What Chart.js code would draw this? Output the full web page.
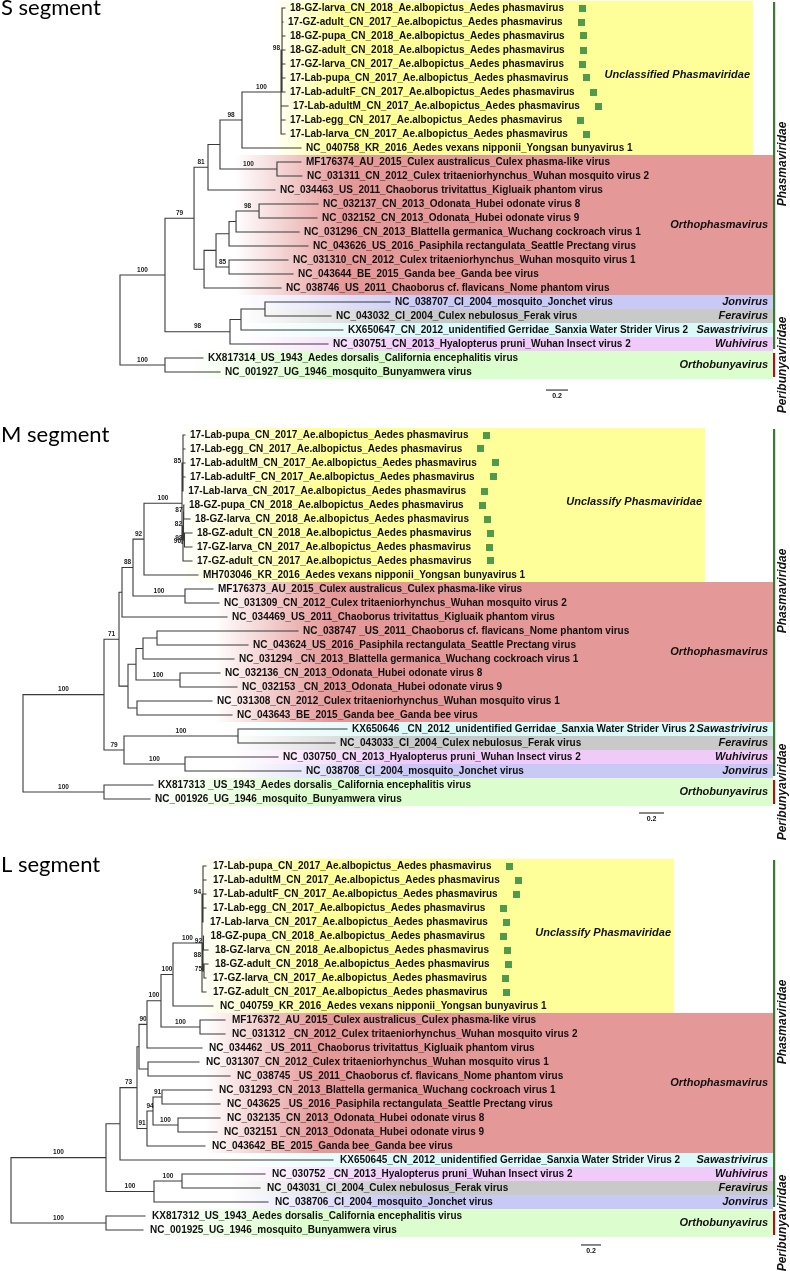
<!DOCTYPE html>
<html><head><meta charset="utf-8">
<script src="https://cdn.jsdelivr.net/npm/chart.js@4.4.1/dist/chart.umd.min.js"></script>
<style>
html,body{margin:0;padding:0;background:#fff;}
#wrap{position:relative;width:790px;height:1271px;overflow:hidden;background:#fff;}
canvas{position:absolute;left:0;}
</style></head><body>
<div id="wrap">
<canvas id="cS" width="790" height="420" style="top:0px"></canvas>
<canvas id="cM" width="790" height="425" style="top:420px"></canvas>
<canvas id="cL" width="790" height="426" style="top:845px"></canvas>
</div>
<script>
// ================= DATA =================
const sTaxa = [
 "18-GZ-larva_CN_2018_Ae.albopictus_Aedes phasmavirus",
 "17-GZ-adult_CN_2017_Ae.albopictus_Aedes phasmavirus",
 "18-GZ-pupa_CN_2018_Ae.albopictus_Aedes phasmavirus",
 "18-GZ-adult_CN_2018_Ae.albopictus_Aedes phasmavirus",
 "17-GZ-larva_CN_2017_Ae.albopictus_Aedes phasmavirus",
 "17-Lab-pupa_CN_2017_Ae.albopictus_Aedes phasmavirus",
 "17-Lab-adultF_CN_2017_Ae.albopictus_Aedes phasmavirus",
 "17-Lab-adultM_CN_2017_Ae.albopictus_Aedes phasmavirus",
 "17-Lab-egg_CN_2017_Ae.albopictus_Aedes phasmavirus",
 "17-Lab-larva_CN_2017_Ae.albopictus_Aedes phasmavirus",
 "NC_040758_KR_2016_Aedes vexans nipponii_Yongsan bunyavirus 1",
 "MF176374_AU_2015_Culex australicus_Culex phasma-like virus",
 "NC_031311_CN_2012_Culex tritaeniorhynchus_Wuhan mosquito virus 2",
 "NC_034463_US_2011_Chaoborus trivitattus_Kigluaik phantom virus",
 "NC_032137_CN_2013_Odonata_Hubei odonate virus 8",
 "NC_032152_CN_2013_Odonata_Hubei odonate virus 9",
 "NC_031296_CN_2013_Blattella germanica_Wuchang cockroach virus 1",
 "NC_043626_US_2016_Pasiphila rectangulata_Seattle Prectang virus",
 "NC_031310_CN_2012_Culex tritaeniorhynchus_Wuhan mosquito virus 1",
 "NC_043644_BE_2015_Ganda bee_Ganda bee virus",
 "NC_038746_US_2011_Chaoborus cf. flavicans_Nome phantom virus",
 "NC_038707_CI_2004_mosquito_Jonchet virus",
 "NC_043032_CI_2004_Culex nebulosus_Ferak virus",
 "KX650647_CN_2012_unidentified Gerridae_Sanxia Water Strider Virus 2",
 "NC_030751_CN_2013_Hyalopterus pruni_Wuhan Insect virus 2",
 "KX817314_US_1943_Aedes dorsalis_California encephalitis virus",
 "NC_001927_UG_1946_mosquito_Bunyamwera virus"
];
// Newick: leaf = index in taxa list, internal label = bootstrap, after ':' = branch length
const sTree = "((((((((0:0.027,1:0.009,2:0.027,3:0.027,4:0.027,5:0.027,6:0.027)98:0.009,7:0.064,8:0.036,9:0.036)100:0.355,10:0.536)98:0.2,(11:0.218,12:0.227)100:0.518):0.109,13:0.609)81:0.127,(((((14:0.536,15:0.527)98:0.209,16:0.573):0.064,17:0.718):0.118,(18:0.536,19:0.582)85:0.118):0.109,20:0.7):0.091)79:0.264,(((21:1.136,22:0.6):0.218,23:0.927):0.1,24:0.891)98:0.591)100:0.409,(25:0.345,26:0.5)100:0.409);";
const sClades = ["Unclassified Phasmaviridae","Orthophasmavirus","Jonvirus","Feravirus","Sawastrivirus","Wuhivirus","Orthobunyavirus"];
const sCladeRows = [[0,10],[11,20],[21,21],[22,22],[23,23],[24,24],[25,26]];
const sTagged = [0,1,2,3,4,5,6,7,8,9];

const mTaxa = [
 "17-Lab-pupa_CN_2017_Ae.albopictus_Aedes phasmavirus",
 "17-Lab-egg_CN_2017_Ae.albopictus_Aedes phasmavirus",
 "17-Lab-adultM_CN_2017_Ae.albopictus_Aedes phasmavirus",
 "17-Lab-adultF_CN_2017_Ae.albopictus_Aedes phasmavirus",
 "17-Lab-larva_CN_2017_Ae.albopictus_Aedes phasmavirus",
 "18-GZ-pupa_CN_2018_Ae.albopictus_Aedes phasmavirus",
 "18-GZ-larva_CN_2018_Ae.albopictus_Aedes phasmavirus",
 "18-GZ-adult_CN_2018_Ae.albopictus_Aedes phasmavirus",
 "17-GZ-larva_CN_2017_Ae.albopictus_Aedes phasmavirus",
 "17-GZ-adult_CN_2017_Ae.albopictus_Aedes phasmavirus",
 "MH703046_KR_2016_Aedes vexans nipponii_Yongsan bunyavirus 1",
 "MF176373_AU_2015_Culex australicus_Culex phasma-like virus",
 "NC_031309_CN_2012_Culex tritaeniorhynchus_Wuhan mosquito virus 2",
 "NC_034469_US_2011_Chaoborus trivitattus_Kigluaik phantom virus",
 "NC_038747 _US_2011_Chaoborus cf. flavicans_Nome phantom virus",
 "NC_043624_US_2016_Pasiphila rectangulata_Seattle Prectang virus",
 "NC_031294 _CN_2013_Blattella germanica_Wuchang cockroach virus 1",
 "NC_032136_CN_2013_Odonata_Hubei odonate virus 8",
 "NC_032153 _CN_2013_Odonata_Hubei odonate virus 9",
 "NC_031308_CN_2012_Culex tritaeniorhynchus_Wuhan mosquito virus 1",
 "NC_043643_BE_2015_Ganda bee_Ganda bee virus",
 "KX650646 _CN_2012_unidentified Gerridae_Sanxia Water Strider Virus 2",
 "NC_043033_CI_2004_Culex nebulosus_Ferak virus",
 "NC_030750_CN_2013_Hyalopterus pruni_Wuhan Insect virus 2",
 "NC_038708_CI_2004_mosquito_Jonchet virus",
 "KX817313 _US_1943_Aedes dorsalis_California encephalitis virus",
 "NC_001926_UG_1946_mosquito_Bunyamwera virus"
];
const mTree = "((((((((0:0.016,1:0.016,2:0.016,3:0.016,4:0.002)85:0.008,(((5:0.002,6:0.05)87:0.002,(7:0.06,8:0.06)98:0.008)82:0.004,9:0.072)96:0.008)100:0.304,10:0.432)92:0.088,(11:0.224,12:0.272)100:0.416)88:0.088,13:0.84):0.024,((((14:1.128,15:0.728):0.112,16:0.728):0.056,(17:0.32,18:0.456)100:0.352):0.064,(19:0.6,20:0.76):0.072):0.072)71:0.12,((21:0.872,22:0.776)100:0.912,(23:0.744,24:0.928)100:0.488)79:0.16)100:0.648,(25:0.392,26:0.368)100:0.648);";
const mClades = ["Unclassify Phasmaviridae","Orthophasmavirus","Sawastrivirus","Feravirus","Wuhivirus","Jonvirus","Orthobunyavirus"];
const mCladeRows = [[0,10],[11,20],[21,21],[22,22],[23,23],[24,24],[25,26]];
const mTagged = [0,1,2,3,4,5,6,7,8,9];

const lTaxa = [
 "17-Lab-pupa_CN_2017_Ae.albopictus_Aedes phasmavirus",
 "17-Lab-adultM_CN_2017_Ae.albopictus_Aedes phasmavirus",
 "17-Lab-adultF_CN_2017_Ae.albopictus_Aedes phasmavirus",
 "17-Lab-egg_CN_2017_Ae.albopictus_Aedes phasmavirus",
 "17-Lab-larva_CN_2017_Ae.albopictus_Aedes phasmavirus",
 "18-GZ-pupa_CN_2018_Ae.albopictus_Aedes phasmavirus",
 "18-GZ-larva_CN_2018_Ae.albopictus_Aedes phasmavirus",
 "18-GZ-adult_CN_2018_Ae.albopictus_Aedes phasmavirus",
 "17-GZ-larva_CN_2017_Ae.albopictus_Aedes phasmavirus",
 "17-GZ-adult_CN_2017_Ae.albopictus_Aedes phasmavirus",
 "NC_040759_KR_2016_Aedes vexans nipponii_Yongsan bunyavirus 1",
 "MF176372_AU_2015_Culex australicus_Culex phasma-like virus",
 "NC_031312 _CN_2012_Culex tritaeniorhynchus_Wuhan mosquito virus 2",
 "NC_034462 _US_2011_Chaoborus trivitattus_Kigluaik phantom virus",
 "NC_031307_CN_2012_Culex tritaeniorhynchus_Wuhan mosquito virus 1",
 "NC_038745 _US_2011_Chaoborus cf. flavicans_Nome phantom virus",
 "NC_031293_CN_2013_Blattella germanica_Wuchang cockroach virus 1",
 "NC_043625 _US_2016_Pasiphila rectangulata_Seattle Prectang virus",
 "NC_032135_CN_2013_Odonata_Hubei odonate virus 8",
 "NC_032151 _CN_2013_Odonata_Hubei odonate virus 9",
 "NC_043642_BE_2015_Ganda bee_Ganda bee virus",
 "KX650645_CN_2012_unidentified Gerridae_Sanxia Water Strider Virus 2",
 "NC_030752 _CN_2013_Hyalopterus pruni_Wuhan Insect virus 2",
 "NC_043031_CI_2004_Culex nebulosus_Ferak virus",
 "NC_038706_CI_2004_mosquito_Jonchet virus",
 "KX817312_US_1943_Aedes dorsalis_California encephalitis virus",
 "NC_001925_UG_1946_mosquito_Bunyamwera virus"
];
const lTree = "((((((((((0:0.03,1:0.03,2:0.03,3:0.03,4:0)94:0.01,((5:0.001,6:0.045)92:0.005,(7:0.04,8:0.02)75:0.01)88:0.01,9:0.04)100:0.29,10:0.4)100:0.12,(11:0.25,12:0.25)100:0.39)100:0.14,13:0.55)90:0.08,(14:0.51,15:0.82):0.09):0.02,(((16:0.5,17:0.58)91:0.09,(18:0.42,19:0.39)100:0.25)94:0.06,20:0.58)91:0.1)73:0.17,21:2.13):0.14,((22:0.83,23:0.78)100:0.28,24:1.14)100:0.48)100:0.95,(25:0.39,26:0.37)100:0.95);";
const lClades = ["Unclassify Phasmaviridae","Orthophasmavirus","Sawastrivirus","Wuhivirus","Feravirus","Jonvirus","Orthobunyavirus"];
const lCladeRows = [[0,10],[11,20],[21,21],[22,22],[23,23],[24,24],[25,26]];
const lTagged = [0,1,2,3,4,5,6,7,8,9];

const families = ["Phasmaviridae","Peribunyaviridae"];
const familyRows = [[0,24],[25,26]];
const scaleBarValue = 0.2;

// ================= STYLE / LAYOUT =================
const cladeColors = {
  "Unclassified Phasmaviridae":"#ffff99", "Unclassify Phasmaviridae":"#ffff99",
  "Orthophasmavirus":"#e59898", "Jonvirus":"#c9c9f6", "Feravirus":"#c9c9c9",
  "Sawastrivirus":"#dcf9f9", "Wuhivirus":"#f0caf8", "Orthobunyavirus":"#dcfdcd"
};
const familyColors = ["#3c7a34","#a31616"];
const PANELS = [
 {canvas:"cS", title:"S segment", taxa:sTaxa, tree:sTree, clades:sClades, cladeRows:sCladeRows, tagged:sTagged,
  rootPx:120, ppu:110, row0:8, height:420, titleY:15, gap:5, yellowRight:753,
  fades:{yellow:[272,335], pink:[235,345], green:[190,320], other:[240,420]}, scaleBar:[3.873,27.29]},
 {canvas:"cM", title:"M segment", taxa:mTaxa, tree:mTree, clades:mClades, cladeRows:mCladeRows, tagged:mTagged,
  rootPx:23, ppu:125, row0:15, height:425, titleY:22, gap:5, yellowRight:705,
  fades:{yellow:[180,320], pink:[215,330], green:[150,300], other:[230,400]}, scaleBar:[4.928,27.0]},
 {canvas:"cL", title:"L segment", taxa:lTaxa, tree:lTree, clades:lClades, cladeRows:lCladeRows, tagged:lTagged,
  rootPx:11, ppu:100, row0:21, height:426, titleY:27, gap:7, yellowRight:674,
  fades:{yellow:[195,320], pink:[205,320], green:[150,300], other:[230,400]}, scaleBar:[5.70,27.07]}
];
const ROW_H = 14, W = 790;
const LABEL_FONT = 'bold 10px "Liberation Sans", Arial, sans-serif';
const BOOT_FONT = 'bold 6.5px "Liberation Sans", Arial, sans-serif';
const CLADE_FONT = 'bold italic 11px "Liberation Sans", Arial, sans-serif';
const FAMILY_FONT = 'bold italic 12px "Liberation Sans", Arial, sans-serif';
const TITLE_FONT = '22px Lato, "Open Sans", sans-serif';

// ================= TREE HELPERS =================
function parseNewick(s) {
  let i = 0;
  function node() {
    const n = {children:[], len:0, bs:null, leaf:null};
    if (s[i] === '(') {
      i++;
      n.children.push(node());
      while (s[i] === ',') { i++; n.children.push(node()); }
      if (s[i] !== ')') throw new Error('Newick error at ' + i);
      i++;
      let lab = '';
      while (i < s.length && /[0-9.]/.test(s[i])) lab += s[i++];
      if (lab) n.bs = lab;
    } else {
      let lab = '';
      while (i < s.length && /[0-9]/.test(s[i])) lab += s[i++];
      n.leaf = parseInt(lab, 10);
    }
    if (s[i] === ':') { i++; let l = ''; while (i < s.length && /[0-9.]/.test(s[i])) l += s[i++]; n.len = parseFloat(l); }
    return n;
  }
  return node();
}
function layoutTree(root) {
  const nodes = [], leaves = [];
  let row = 0;
  (function walk(n, parent, depth) {
    n.parent = parent; n.depth = depth; nodes.push(n);
    if (n.leaf !== null) { n.y = row++; leaves.push(n); }
    else {
      n.children.forEach(c => walk(c, n, depth + c.len));
      n.y = (n.children[0].y + n.children[n.children.length - 1].y) / 2;
    }
  })(root, null, 0);
  return {nodes, leaves};
}
function hexA(hex, a) {
  const r = parseInt(hex.slice(1,3),16), g = parseInt(hex.slice(3,5),16), b = parseInt(hex.slice(5,7),16);
  return `rgba(${r},${g},${b},${a})`;
}

function buildPanel(P) {
  const T = layoutTree(parseNewick(P.tree));
  const pts = [];
  T.nodes.forEach(n => {
    if (!n.children.length) return;
    const first = n.children[0], last = n.children[n.children.length - 1];
    pts.push({x:n.depth, y:first.y}, {x:n.depth, y:last.y}, {x:null, y:null});
    n.children.forEach(c => { pts.push({x:n.depth, y:c.y}, {x:c.depth, y:c.y}, {x:null, y:null}); });
  });
  const sb = [{x:P.scaleBar[0], y:P.scaleBar[1]}, {x:P.scaleBar[0] + scaleBarValue, y:P.scaleBar[1]}];

  const plugin = {
    id: 'phylo_' + P.canvas,
    beforeDatasetsDraw(chart) {
      const ctx = chart.ctx, ys = chart.scales.y;
      ctx.save();
      // clade boxes
      P.cladeRows.forEach((r, i) => {
        const name = P.clades[i], col = cladeColors[name];
        const y0 = ys.getPixelForValue(r[0] - 0.5), y1 = ys.getPixelForValue(r[1] + 0.5);
        const f = i === 0 ? P.fades.yellow : (name === 'Orthophasmavirus' ? P.fades.pink : (name === 'Orthobunyavirus' ? P.fades.green : P.fades.other));
        const right = i === 0 ? P.yellowRight : 773;
        const g = ctx.createLinearGradient(f[0], 0, f[1], 0);
        g.addColorStop(0, hexA(col, 0)); g.addColorStop(1, hexA(col, 1));
        ctx.fillStyle = g;
        ctx.fillRect(f[0], Math.round(y0), right - f[0], Math.round(y1) - Math.round(y0));
      });
      // family bars
      familyRows.forEach((r, i) => {
        const y0 = ys.getPixelForValue(r[0] - 0.5) + (i === 0 ? 1 : 2);
        const y1 = ys.getPixelForValue(r[1] + 0.5) - 2;
        ctx.fillStyle = familyColors[i];
        ctx.fillRect(773, y0, 2.2, y1 - y0);
      });
      ctx.restore();
    },
    afterDatasetsDraw(chart) {
      const ctx = chart.ctx, xs = chart.scales.x, ys = chart.scales.y;
      ctx.save();
      // leaf labels + tag squares
      ctx.font = LABEL_FONT; ctx.textBaseline = 'middle'; ctx.textAlign = 'left';
      T.leaves.forEach(n => {
        const x = xs.getPixelForValue(n.depth) + P.gap;
        const y = ys.getPixelForValue(n.y) + 0.5;
        const t = P.taxa[n.leaf];
        ctx.fillStyle = '#111';
        ctx.fillText(t, x, y);
        if (P.tagged.includes(n.leaf)) {
          const w = ctx.measureText(t).width;
          ctx.fillStyle = '#4f9b4b';
          ctx.fillRect(Math.round(x + w + 15), Math.round(y - 4), 7, 7);
        }
      });
      // bootstrap values
      ctx.font = BOOT_FONT; ctx.fillStyle = '#222';
      T.nodes.forEach(n => {
        if (!n.bs || !n.parent) return;
        const px0 = xs.getPixelForValue(n.parent.depth), px1 = xs.getPixelForValue(n.depth);
        const py = ys.getPixelForValue(n.y);
        if (px1 - px0 < 4) {
          ctx.textAlign = 'right'; ctx.textBaseline = 'middle';
          ctx.fillText(n.bs, px0 - 1, py - 2);
        } else {
          ctx.textAlign = 'center'; ctx.textBaseline = 'bottom';
          ctx.fillText(n.bs, (px0 + px1) / 2, py - 2);
        }
      });
      // clade labels
      ctx.font = CLADE_FONT; ctx.fillStyle = '#111'; ctx.textAlign = 'right'; ctx.textBaseline = 'middle';
      P.cladeRows.forEach((r, i) => {
        const yr = i === 0 ? (r[0] + r[1]) / 2 - 0.2 : (r[0] + r[1]) / 2;
        const xr = i === 0 ? P.yellowRight - 3 : 768;
        ctx.fillText(P.clades[i], xr, ys.getPixelForValue(yr));
      });
      // family labels (rotated)
      ctx.font = FAMILY_FONT; ctx.textAlign = 'center'; ctx.textBaseline = 'middle';
      familyRows.forEach((r, i) => {
        const yc = (ys.getPixelForValue(r[0] - 0.5) + ys.getPixelForValue(r[1] + 0.5)) / 2 - (i === 0 ? 12 : 0);
        ctx.save(); ctx.translate(783, yc); ctx.rotate(-Math.PI / 2);
        ctx.fillText(families[i], 0, 0); ctx.restore();
      });
      // scale bar label
      ctx.font = 'bold 7px "Liberation Sans", Arial, sans-serif'; ctx.textAlign = 'center'; ctx.textBaseline = 'top';
      ctx.fillText(String(scaleBarValue), xs.getPixelForValue(P.scaleBar[0] + scaleBarValue / 2), ys.getPixelForValue(P.scaleBar[1]) + 3);
      // title
      ctx.font = TITLE_FONT; ctx.fillStyle = '#000'; ctx.textAlign = 'left'; ctx.textBaseline = 'alphabetic';
      ctx.fillText(P.title, 1, P.titleY);
      ctx.restore();
    }
  };

  new Chart(document.getElementById(P.canvas), {
    type: 'scatter',
    data: { datasets: [
      {data: pts, showLine: true, spanGaps: false, borderColor: '#3a3a3a', borderWidth: 1.1, pointRadius: 0, pointHoverRadius: 0, borderCapStyle: 'square'},
      {data: sb, showLine: true, borderColor: '#111', borderWidth: 1, pointRadius: 0, pointHoverRadius: 0}
    ]},
    options: {
      responsive: false, animation: false, devicePixelRatio: 1, events: [],
      layout: {padding: 0},
      plugins: {legend: {display: false}, tooltip: {enabled: false}, title: {display: false}},
      scales: {
        x: {type: 'linear', display: false, min: -P.rootPx / P.ppu, max: (W - P.rootPx) / P.ppu},
        y: {type: 'linear', display: false, reverse: true, min: -P.row0 / ROW_H, max: (P.height - P.row0) / ROW_H}
      }
    },
    plugins: [plugin]
  });
}
PANELS.forEach(buildPanel);
</script>
</body></html>
